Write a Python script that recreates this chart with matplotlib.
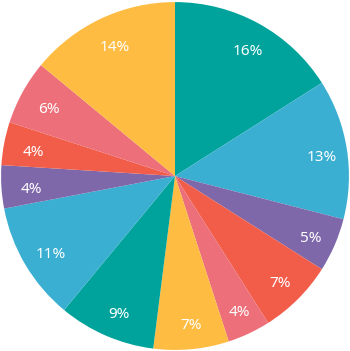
import matplotlib
matplotlib.use('Agg')
import matplotlib.pyplot as plt
from matplotlib.transforms import ScaledTranslation

plt.rcParams['font.family'] = ['Noto Sans', 'DejaVu Sans']

shares = [16, 13, 5, 7, 4, 7, 9, 11, 4, 4, 6, 14]
colors = ['#00A39B', '#3AAFD1', '#7E68AA', '#F25D4A', '#EC6F79', '#FEBC42',
          '#00A39B', '#3AAFD1', '#7E68AA', '#F25D4A', '#EC6F79', '#FEBC42']

fig = plt.figure(figsize=(3.5, 3.51), dpi=100)
ax = fig.add_axes([0, 0, 1, 1])
wedges, texts, autotexts = ax.pie(
    shares, colors=colors, startangle=90, counterclock=False,
    radius=1.0, pctdistance=0.84,
    autopct=lambda p: '{:.0f}%'.format(p),
    wedgeprops=dict(linewidth=0),
    textprops=dict(color='white', fontsize=11))
# nudge labels a little right and down
shift = ScaledTranslation(0.02, -0.02, fig.dpi_scale_trans)
for t in autotexts:
    t.set_va('center_baseline')
    t.set_transform(t.get_transform() + shift)
ax.set_xlim(-1.006, 1.006)
ax.set_ylim(-1.006, 1.012)
ax.set_aspect('equal')
ax.axis('off')

fig.savefig('out.png', dpi=100)
